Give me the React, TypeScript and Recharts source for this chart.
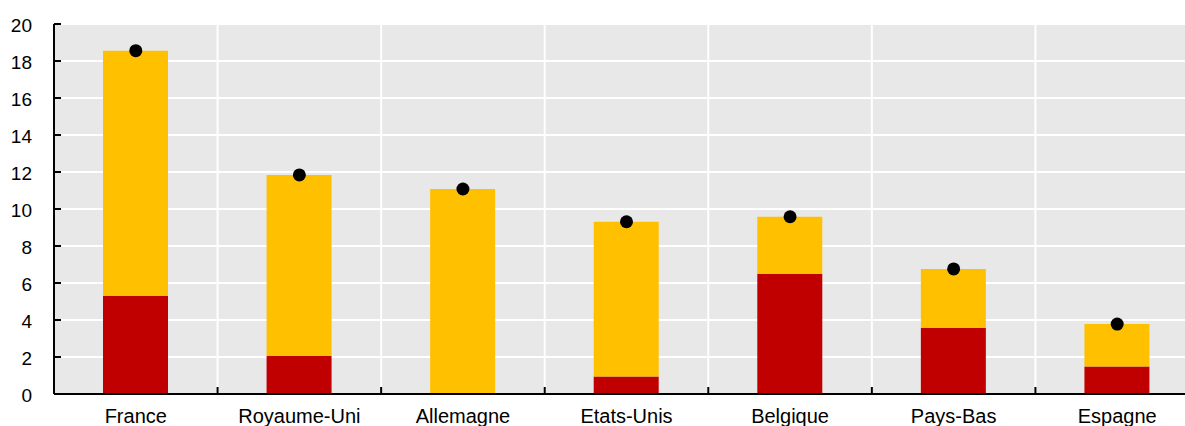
import { ComposedChart, Bar, Line, XAxis, YAxis, CartesianGrid } from "recharts"

const PAYS = ["France", "Royaume-Uni", "Allemagne", "Etats-Unis", "Belgique", "Pays-Bas", "Espagne"]
const ROUGE_VAL = [5.3, 2.05, 0, 0.94, 6.5, 3.57, 1.48]
const JAUNE_VAL = [13.26, 9.79, 11.08, 8.37, 3.08, 3.19, 2.3]
const TOTAL_VAL = [18.56, 11.84, 11.08, 9.31, 9.58, 6.76, 3.78]
const Y_TICKS = [0, 2, 4, 6, 8, 10, 12, 14, 16, 18, 20]

const ROUGE = "#C00000"
const JAUNE = "#FFC000"
const FOND = "#E8E8E8"
const FONT = "'Liberation Sans', Arial, sans-serif"

const W = 1199
const H = 426
const M = { top: 24, right: 0, left: 0, bottom: 0 }
const Y_W = 54
const X_H = 32
const PLOT_W = W - Y_W - M.left - M.right
const PAS = PLOT_W / PAYS.length

const data = PAYS.map((p, i) => ({
  pays: p,
  rouge: ROUGE_VAL[i],
  jaune: JAUNE_VAL[i],
  total: TOTAL_VAL[i],
}))

function YTick({ x, y, payload }: any) {
  return (
    <g>
      <line x1={x} x2={x + 7} y1={y} y2={y} stroke="#000" strokeWidth={2} />
      <text x={x - 22} y={y} dy={8} textAnchor="end" style={{ fontSize: 19, fontFamily: FONT }} fill="#000">
        {payload.value}
      </text>
    </g>
  )
}

function XTick({ x, y, payload, index }: any) {
  return (
    <g>
      {index > 0 && (
        <line x1={x - PAS / 2} x2={x - PAS / 2} y1={y} y2={y - 7} stroke="#000" strokeWidth={2} />
      )}
      <text x={x} y={y + 29} textAnchor="middle" style={{ fontSize: 20, fontFamily: FONT }} fill="#000">
        {payload.value}
      </text>
    </g>
  )
}

export default function App() {
  return (
    <div style={{ position: "absolute", left: 0, top: 0, width: 1185, height: H, overflow: "hidden", background: "#fff" }}>
      <ComposedChart width={W} height={H} data={data} margin={M} barCategoryGap="30%">
        <CartesianGrid
          stroke="#fff"
          strokeWidth={2}
          fill={FOND}
          fillOpacity={1}
          verticalCoordinatesGenerator={({ offset }: any) =>
            PAYS.map((_, i) => offset.left + i * (offset.width / PAYS.length)).slice(1)
          }
        />
        <XAxis
          dataKey="pays"
          height={X_H}
          interval={0}
          tickLine={false}
          tickSize={0}
          tickMargin={0}
          axisLine={{ stroke: "#000", strokeWidth: 2 }}
          tick={<XTick />}
        />
        <YAxis
          width={Y_W}
          domain={[0, 20]}
          ticks={Y_TICKS}
          interval={0}
          tickLine={false}
          tickSize={0}
          tickMargin={0}
          axisLine={{ stroke: "#000", strokeWidth: 2 }}
          tick={<YTick />}
        />
        <Bar dataKey="rouge" stackId="a" fill={ROUGE} barSize={65} isAnimationActive={false} />
        <Bar dataKey="jaune" stackId="a" fill={JAUNE} barSize={65} isAnimationActive={false} />
        <Line
          dataKey="total"
          stroke="none"
          dot={{ r: 6.5, fill: "#000", stroke: "none" }}
          activeDot={false}
          isAnimationActive={false}
        />
      </ComposedChart>
    </div>
  )
}
